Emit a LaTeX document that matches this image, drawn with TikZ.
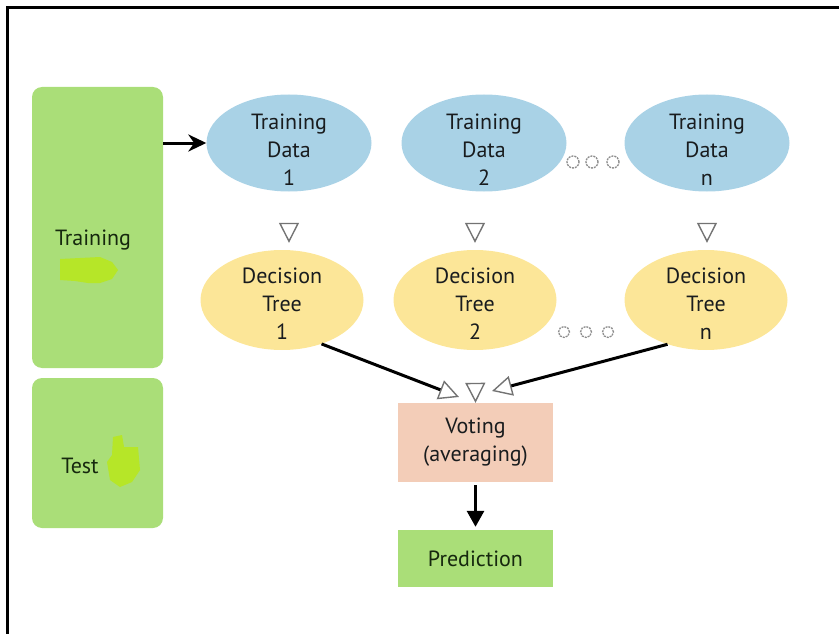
\documentclass[tikz,border=0pt]{standalone}
\usepackage{fontspec}
\setmainfont{PT Sans}
\usetikzlibrary{positioning, arrows.meta, shapes.geometric}

\definecolor{boxgreen}{RGB}{170,222,120}
\definecolor{datablue}{RGB}{169,210,230}
\definecolor{treeyellow}{RGB}{252,230,152}
\definecolor{votepeach}{RGB}{243,205,184}
\definecolor{scribble}{RGB}{182,230,40}
\definecolor{textdark}{RGB}{25,28,30}
\definecolor{textgreen}{RGB}{22,40,14}

\begin{document}
\begin{tikzpicture}[x=1pt, y=-1pt,
    every node/.style={font=\fontsize{22}{28}\selectfont, text=textdark, align=center, inner sep=0pt},
    data/.style={ellipse, fill=datablue, minimum width=165pt, minimum height=97pt},
    tree/.style={ellipse, fill=treeyellow, minimum width=163pt, minimum height=100pt},
    side/.style={rounded corners=10pt, fill=boxgreen, minimum width=131pt},
    link/.style={line width=3pt, black},
    opentip/.style={-{Triangle[open, length=20pt, width=20pt, line width=1.4pt, color=black!55]}},
    hint/.style={draw=white, opentip},
    ring/.style={draw=black!45, line width=1.3pt, dash pattern=on 2pt off 1pt}]
		\useasboundingbox (0,0) rectangle (839,634);

		% frame
		\draw[line width=3pt] (7,634) -- (7,8) -- (839,8);

		% Training / Test blocks on the left
		\node[side, minimum height=281pt] (train) at (97.5,227.5) {};
		\node[side, minimum height=150pt] (test) at (97.5,453) {};
		\node[text=textgreen] (trainlbl) at (93,240) {Training};
		\node[text=textgreen] (testlbl) at (80,466) {Test};
		\fill[scribble] (60,259) -- (100,257) -- (112,262) -- (118,270) -- (112,279) -- (100,283) -- (88,283) -- (75,281) -- (60,280) -- cycle;
		\fill[scribble] (113,437) -- (122,435) -- (124,447) -- (138,447) -- (140,470) -- (132,482) -- (120,487) -- (110,480) -- (107,462) -- (112,455) -- cycle;

		% Training data subsets (text sits a bit low in the ellipse)
		\node[data, label={[yshift=-7pt]center:{Training\\Data\\1}}] (td1) at (289,143) {};
		\node[data, label={[yshift=-7pt]center:{Training\\Data\\2}}] (td2) at (484,143) {};
		\node[data, label={[yshift=-7pt]center:{Training\\Data\\n}}] (tdn) at (707,143) {};

		% Decision trees
		\node[tree, label={[yshift=-4pt]center:{Decision\\Tree\\1}}] (dt1) at (282,300) {};
		\node[tree, label={[yshift=-4pt]center:{Decision\\Tree\\2}}] (dt2) at (475,300) {};
		\node[tree, label={[yshift=-4pt]center:{Decision\\Tree\\n}}] (dtn) at (706,300) {};

		% Voting and prediction
		\node[fill=votepeach, minimum width=155pt, minimum height=79pt] (vote) at (475.5,442.5) {Voting\\(averaging)};
		\node[fill=boxgreen, text=textgreen, minimum width=155pt, minimum height=57pt] (pred) at (475.5,558.5) {Prediction};

		% ellipsis dots
		\foreach \x in {573,592,613} \draw[ring] (\x,162) circle (6pt);
		\foreach \x in {564,586,608} \draw[ring] (\x,332) circle (5.5pt);

		% arrows
		\draw[link, -{Stealth[length=18pt, width=17pt]}] (train.east |- td1.west) -- (td1.west);
		\draw[hint, shorten >=7pt] (td1.south) -- (td1.south |- dt1.north);
		\draw[hint, shorten >=7pt] (dt2.north |- td2.south) -- (dt2.north);
		\draw[hint, shorten >=7pt] (tdn.south) -- (tdn.south |- dtn.north);

		\coordinate (in1) at (459,397);
		\coordinate (inn) at (492,391);
		\draw[link, opentip] (dt1.-48) -- (in1);
		\draw[hint] (dt2.south) -- (vote.north);
		\draw[link, opentip] (dtn.-131) -- (inn);

		\draw[link, -{Triangle[length=16pt, width=17pt]}, shorten <=3pt, shorten >=3pt] (vote.south) -- (pred.north);
	\end{tikzpicture}
\end{document}
